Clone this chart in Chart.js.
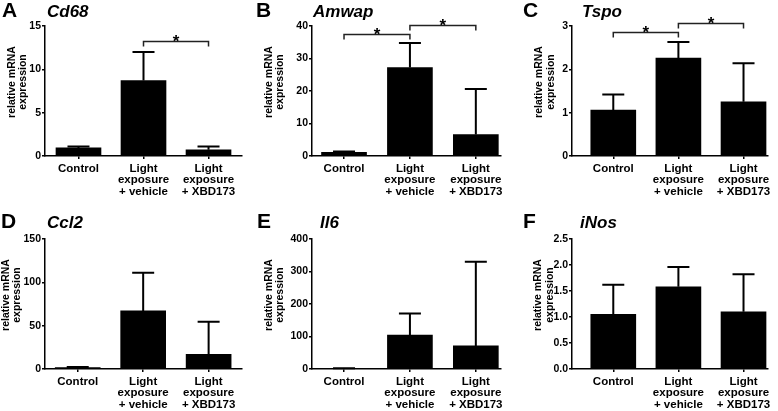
<!DOCTYPE html>
<html>
<head>
<meta charset="utf-8">
<script src="https://cdn.jsdelivr.net/npm/chart.js@4.4.0/dist/chart.umd.min.js"></script>
<style>
    html, body { margin: 0; padding: 0; background: #fff; }
    #fig { position: relative; width: 778px; height: 411px; overflow: hidden; }
    .panel { position: absolute; }
    .panel canvas { display: block; }
</style>
</head>
<body>
<div id="fig"></div>
<script>
// groups on the x axis (one line per array item)
const groups = [["Control"], ["Light", "exposure", "+ vehicle"], ["Light", "exposure", "+ XBD173"]];

// mean and upper error, per gene
const cd68Mean = [0.93, 8.7, 0.72];
const cd68Err = [0.17, 3.3, 0.38];
const cd68Ticks = [0, 5, 10, 15];
const cd68Sig = [[1, 2, 13.3]];

const amwapMean = [1.1, 27.2, 6.6];
const amwapErr = [0.3, 7.6, 14.0];
const amwapTicks = [0, 10, 20, 30, 40];
const amwapSig = [[0, 1, 37.5], [1, 2, 40.3]];

const tspoMean = [1.06, 2.26, 1.25];
const tspoErr = [0.36, 0.37, 0.89];
const tspoTicks = [0, 1, 2, 3];
const tspoSig = [[0, 1, 2.87], [1, 2, 3.08]];

const ccl2Mean = [1.5, 67, 17];
const ccl2Err = [0.7, 44, 37.5];
const ccl2Ticks = [0, 50, 100, 150];

const il6Mean = [1.5, 104, 71];
const il6Err = [0.5, 67, 259];
const il6Ticks = [0, 100, 200, 300, 400];

const inosMean = [1.05, 1.58, 1.10];
const inosErr = [0.57, 0.38, 0.72];
const inosTicks = [0, 0.5, 1.0, 1.5, 2.0, 2.5];

const yTitle = ["relative mRNA", "expression"];
const FONT = "'Liberation Sans', Arial, Helvetica, sans-serif";

const panels = [
    { letter: "A", gene: "Cd68", mean: cd68Mean, err: cd68Err, ticks: cd68Ticks, sig: cd68Sig, dec: 0,
      box: [0, 0, 255, 205], axisLeft: 45, axisRight: 242, plotTop: 26, plotBottom: 156,
      xMin: -0.515, xMax: 2.515, letterX: 2, geneX: 47, titleOff: [33, 22] },
    { letter: "B", gene: "Amwap", mean: amwapMean, err: amwapErr, ticks: amwapTicks, sig: amwapSig, dec: 0,
      box: [255, 0, 260, 205], axisLeft: 312, axisRight: 501, plotTop: 26, plotBottom: 156,
      xMin: -0.486, xMax: 2.382, letterX: 256, geneX: 313, titleOff: [43, 32] },
    { letter: "C", gene: "Tspo", mean: tspoMean, err: tspoErr, ticks: tspoTicks, sig: tspoSig, dec: 0,
      box: [515, 0, 263, 205], axisLeft: 572, axisRight: 768, plotTop: 26, plotBottom: 156,
      xMin: -0.634, xMax: 2.376, letterX: 523, geneX: 582, titleOff: [33, 21] },
    { letter: "D", gene: "Ccl2", mean: ccl2Mean, err: ccl2Err, ticks: ccl2Ticks, sig: [], dec: 0,
      box: [0, 205, 255, 206], axisLeft: 45, axisRight: 242, plotTop: 239, plotBottom: 369,
      xMin: -0.5, xMax: 2.51, letterX: 1, geneX: 47, titleOff: [39, 28] },
    { letter: "E", gene: "Il6", mean: il6Mean, err: il6Err, ticks: il6Ticks, sig: [], dec: 0,
      box: [255, 205, 260, 206], axisLeft: 312, axisRight: 501, plotTop: 239, plotBottom: 369,
      xMin: -0.486, xMax: 2.382, letterX: 257, geneX: 320, titleOff: [43, 32] },
    { letter: "F", gene: "iNos", mean: inosMean, err: inosErr, ticks: inosTicks, sig: [], dec: 1,
      box: [515, 205, 263, 206], axisLeft: 572, axisRight: 768, plotTop: 239, plotBottom: 369,
      xMin: -0.634, xMax: 2.376, letterX: 523, geneX: 580, titleOff: [34, 22] },
];

function decorPlugin(p) {
    return {
        id: "decor",
        afterDatasetsDraw(chart) {
            const ctx = chart.ctx;
            const xs = chart.scales.x;
            const ys = chart.scales.y;
            ctx.save();
            ctx.strokeStyle = "#000";
            // error bars (upper only)
            ctx.lineWidth = 2;
            p.mean.forEach((m, i) => {
                const x = xs.getPixelForValue(i);
                const y0 = ys.getPixelForValue(m);
                const y1 = ys.getPixelForValue(m + p.err[i]);
                ctx.beginPath();
                ctx.moveTo(x, y0);
                ctx.lineTo(x, y1);
                ctx.moveTo(x - 11, y1);
                ctx.lineTo(x + 11, y1);
                ctx.stroke();
            });
            // significance brackets
            ctx.lineWidth = 1.5;
            ctx.strokeStyle = "#222";
            ctx.fillStyle = "#000";
            ctx.font = "bold 17px " + FONT;
            ctx.textAlign = "center";
            ctx.textBaseline = "alphabetic";
            p.sig.forEach(([a, b, v]) => {
                const xa = xs.getPixelForValue(a);
                const xb = xs.getPixelForValue(b);
                const y = Math.round(ys.getPixelForValue(v)) + 0.5;
                ctx.beginPath();
                ctx.moveTo(xa, y + 5);
                ctx.lineTo(xa, y);
                ctx.lineTo(xb, y);
                ctx.lineTo(xb, y + 5);
                ctx.stroke();
                ctx.fillText("*", (xa + xb) / 2, y + 5);
            });
            ctx.restore();
        },
        afterDraw(chart) {
            const ctx = chart.ctx;
            const ox = p.box[0];
            const oy = p.box[1];
            ctx.save();
            ctx.fillStyle = "#000";
            ctx.textBaseline = "alphabetic";
            ctx.textAlign = "left";
            const base = (p.box[1] === 0 ? 17 : 228) - oy;
            ctx.font = "bold 21px " + FONT;
            ctx.fillText(p.letter, p.letterX - ox, base);
            ctx.font = "italic bold 17px " + FONT;
            ctx.fillText(p.gene, p.geneX - ox, base);
            // y axis title, two lines
            const cy = (p.plotTop + p.plotBottom) / 2 - 9 - oy;
            ctx.font = "bold 10.5px " + FONT;
            ctx.textAlign = "center";
            ctx.textBaseline = "middle";
            yTitle.forEach((t, k) => {
                ctx.save();
                ctx.translate(p.axisLeft - p.titleOff[k] - ox, cy);
                ctx.rotate(-Math.PI / 2);
                ctx.fillText(t, 0, 0);
                ctx.restore();
            });
            ctx.restore();
        },
    };
}

function makeChart(p) {
    const [left, top, w, h] = p.box;
    const div = document.createElement("div");
    div.className = "panel";
    div.style.left = left + "px";
    div.style.top = top + "px";
    div.style.width = w + "px";
    div.style.height = h + "px";
    const canvas = document.createElement("canvas");
    canvas.width = w;
    canvas.height = h;
    div.appendChild(canvas);
    document.getElementById("fig").appendChild(div);

    new Chart(canvas, {
        type: "bar",
        data: {
            datasets: [{
                data: p.mean.map((v, i) => ({ x: i, y: v })),
                backgroundColor: "#000",
                borderWidth: 0,
                barThickness: 45,
            }],
        },
        options: {
            responsive: false,
            animation: false,
            devicePixelRatio: 1,
            layout: {
                padding: { left: 0, top: p.plotTop - top, right: left + w - p.axisRight, bottom: 0 },
            },
            plugins: { legend: { display: false }, tooltip: { enabled: false } },
            scales: {
                x: {
                    type: "linear",
                    min: p.xMin,
                    max: p.xMax,
                    offset: false,
                    afterBuildTicks: (s) => { s.ticks = groups.map((g, i) => ({ value: i })); },
                    afterFit: (s) => { s.height = top + h - p.plotBottom; },
                    grid: { display: true, offset: false, drawOnChartArea: false, drawTicks: true, tickLength: 3, color: "#000", lineWidth: 1.5 },
                    border: { display: true, color: "#000", width: 1.5 },
                    ticks: {
                        callback: (v) => groups[v],
                        color: "#000",
                        font: { family: FONT, size: 11.5, weight: "bold", lineHeight: 1.0 },
                        padding: 4,
                        maxRotation: 0,
                        autoSkip: false,
                    },
                },
                y: {
                    min: 0,
                    max: p.ticks[p.ticks.length - 1],
                    afterBuildTicks: (s) => { s.ticks = p.ticks.map((v) => ({ value: v })); },
                    afterFit: (s) => { s.width = p.axisLeft - left; },
                    grid: { display: true, drawOnChartArea: false, drawTicks: true, tickLength: 3, color: "#000", lineWidth: 1.5 },
                    border: { display: true, color: "#000", width: 1.5 },
                    ticks: {
                        callback: (v) => v.toFixed(p.dec),
                        color: "#000",
                        font: { family: FONT, size: 10.5, weight: "bold" },
                        padding: 1,
                    },
                },
            },
        },
        plugins: [decorPlugin(p)],
    });
}

panels.forEach(makeChart);
</script>
</body>
</html>
